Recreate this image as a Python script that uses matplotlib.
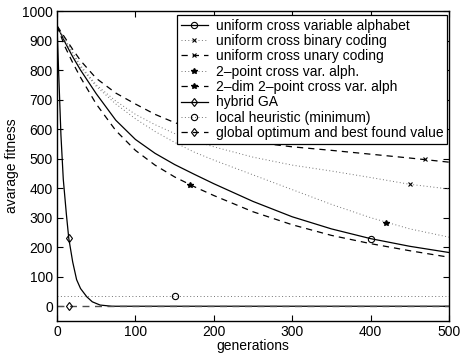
import matplotlib
matplotlib.use('Agg')
import matplotlib.pyplot as plt
from matplotlib.ticker import MultipleLocator
from matplotlib.lines import Line2D
import numpy as np

plt.rcParams['font.family'] = ['Liberation Sans', 'DejaVu Sans']

gen = [0, 10, 20, 30, 50, 75, 100, 125, 150, 175, 200, 250, 300, 350, 400, 450, 500]

var_alph = [950, 895, 845, 800, 720, 630, 565, 518, 480, 447, 415, 355, 303, 262, 229, 203, 182]
binary = [950, 905, 860, 815, 750, 695, 650, 615, 585, 560, 540, 505, 478, 458, 436, 413, 397]
unary = [950, 910, 870, 832, 772, 722, 685, 650, 622, 600, 582, 556, 540, 528, 515, 502, 488]
two_point = [950, 900, 855, 810, 745, 685, 635, 592, 555, 522, 495, 445, 395, 345, 300, 262, 234]
two_dim = [950, 880, 825, 775, 685, 595, 528, 478, 438, 405, 375, 320, 276, 240, 212, 188, 166]

hyb_gen = [0, 2, 5, 8, 12, 15, 20, 25, 30, 38, 45, 55, 70, 500]
hybrid = [950, 800, 580, 430, 310, 230, 150, 90, 60, 32, 15, 4, 0, 0]

local_min = 35
global_opt = 0

# single marker positions (generation, value)
mk_var_alph = (400, 229)
mk_binary = (450, 413)
mk_unary = (470, 498)
mk_two_point = (420, 283)
mk_two_dim = (170, 410)
mk_hybrid = (15, 230)
mk_local = (150, 35)
mk_global = (15, 0)

labels = ['uniform cross variable alphabet', 'uniform cross binary coding',
          'uniform cross unary coding', '2\u2013point cross var. alph.',
          '2\u2013dim 2\u2013point cross var. alph', 'hybrid GA',
          'local heuristic (minimum)', 'global optimum and best found value']

fig = plt.figure(figsize=(4.62, 3.56), dpi=100)
ax = fig.add_axes([0.1234, 0.0983, 0.8485, 0.8708])

dash = (0, (5, 4))
dot = (0, (1, 2.5))
lw = 0.9

ax.plot(gen, var_alph, color='k', lw=lw, ls='-')
ax.plot(gen, binary, color='0.45', lw=0.7, ls=dot)
ax.plot(gen, unary, color='k', lw=lw, ls=dash)
ax.plot(gen, two_point, color='0.45', lw=0.7, ls=dot)
ax.plot(gen, two_dim, color='k', lw=lw, ls=dash)
ax.plot(hyb_gen, hybrid, color='k', lw=lw, ls='-')
ax.plot([0, 500], [local_min, local_min], color='0.45', lw=0.7, ls=dot)
ax.plot([0, 500], [global_opt, global_opt], color='0.3', lw=1.0, ls=dash)

ms = 4.5
ax.plot(*mk_var_alph, marker='o', mfc='none', mec='k', ms=ms, mew=0.8)
ax.plot(*mk_binary, marker='x', color='k', ms=3, mew=0.8)
ax.plot(*mk_unary, marker='x', color='k', ms=3, mew=0.8)
ax.plot(*mk_two_point, marker='*', color='k', ms=4)
ax.plot(*mk_two_dim, marker='*', color='k', ms=4)
ax.plot(*mk_hybrid, marker='d', mfc='none', mec='k', ms=ms, mew=0.8)
ax.plot(*mk_local, marker='o', mfc='none', mec='k', ms=ms, mew=0.8)
ax.plot(*mk_global, marker='d', mfc='none', mec='k', ms=ms, mew=0.8)

handles = [
    Line2D([], [], color='k', lw=lw, ls='-', marker='o', mfc='none', mec='k', ms=ms, mew=0.8),
    Line2D([], [], color='0.45', lw=0.7, ls=dot, marker='x', mec='k', ms=3, mew=0.8),
    Line2D([], [], color='k', lw=lw, ls=dash, marker='x', mec='k', ms=3, mew=0.8),
    Line2D([], [], color='0.45', lw=0.7, ls=dot, marker='*', mfc='k', mec='k', ms=4),
    Line2D([], [], color='k', lw=lw, ls=dash, marker='*', mfc='k', mec='k', ms=4),
    Line2D([], [], color='k', lw=lw, ls='-', marker='d', mfc='none', mec='k', ms=ms, mew=0.8),
    Line2D([], [], color='0.45', lw=0.7, ls=dot, marker='o', mfc='none', mec='k', ms=ms, mew=0.8),
    Line2D([], [], color='k', lw=lw, ls=dash, marker='d', mfc='none', mec='k', ms=ms, mew=0.8),
]
leg = ax.legend(handles, labels, loc='upper right', bbox_to_anchor=(0.995, 0.987),
                borderaxespad=0, fontsize=10, handlelength=2.0, handletextpad=0.55,
                labelspacing=0.1, fancybox=False, framealpha=1, borderpad=0.25)
leg.get_frame().set_edgecolor('k')
leg.get_frame().set_linewidth(0.9)

ax.set_xlim(0, 500)
ax.set_ylim(-50, 1000)
ax.xaxis.set_major_locator(MultipleLocator(100))
ax.yaxis.set_major_locator(MultipleLocator(100))
ax.tick_params(direction='in', top=True, right=True, labelsize=10, length=4, width=0.8, pad=3)
for s in ax.spines.values():
    s.set_linewidth(1.0)
ax.set_xlabel('generations', fontsize=10, labelpad=0)
ax.set_ylabel('avarage fitness', fontsize=10, labelpad=2)

fig.savefig('out.png', dpi=100)
